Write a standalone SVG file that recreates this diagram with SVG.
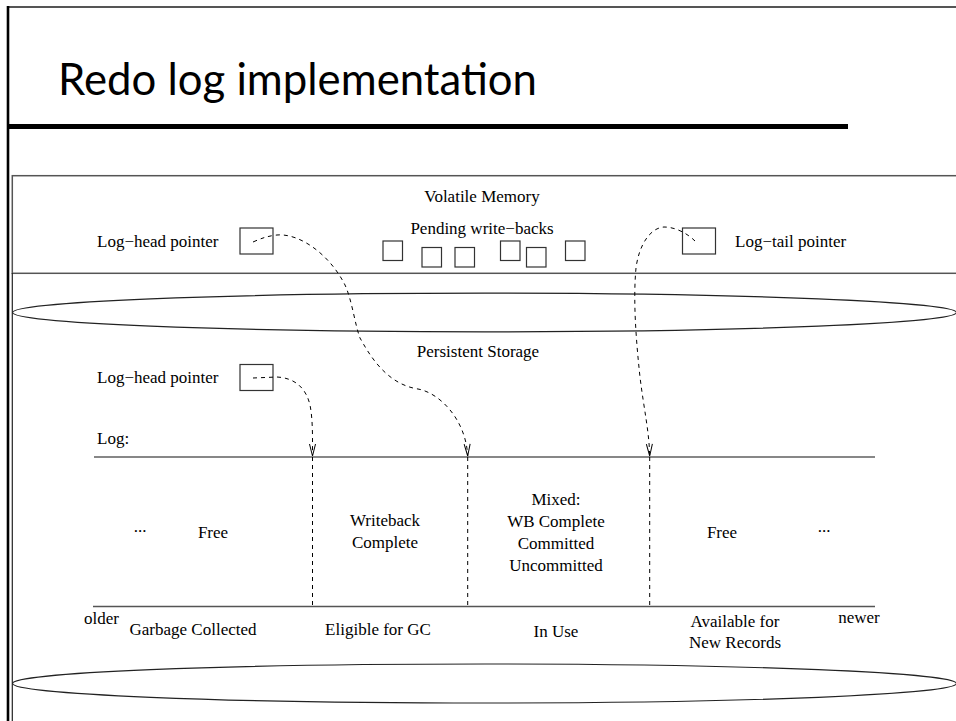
<svg xmlns="http://www.w3.org/2000/svg" width="956" height="721" viewBox="0 0 956 721">
  <style>
    .lbl { font-family: "Liberation Serif", "Times New Roman", serif; font-size: 17px; fill: #000; }
    .mid { text-anchor: middle; }
    .box { fill: none; stroke: #333; stroke-width: 1.2; }
    .thin { fill: none; stroke: #222; stroke-width: 1.2; }
    .grey { fill: none; stroke: #555; stroke-width: 1.5; }
    .ptr { fill: none; stroke: #000; stroke-width: 1; stroke-dasharray: 4 4; }
    .title { font-family: "Comic Sans MS", "Lato", "DejaVu Sans", sans-serif; font-size: 44px; fill: #000; }
  </style>
  <defs>
    <!-- open V arrowhead used by the pointer curves -->
    <marker id="vee" markerUnits="userSpaceOnUse" orient="auto" overflow="visible" markerWidth="12" markerHeight="8" refX="0" refY="0">
      <path d="M-12,-3 L0,0 L-12,3" fill="none" stroke="#000" stroke-width="1" stroke-dasharray="none"/>
    </marker>
  </defs>

  <rect width="956" height="721" fill="#fff"/>

  <!-- page frame and heading -->
  <g id="frame">
    <line x1="7" y1="7" x2="956" y2="7" stroke="#555" stroke-width="1.8"/>
    <line x1="8" y1="6" x2="8" y2="721" stroke="#000" stroke-width="2.6"/>
    <line x1="7" y1="126.5" x2="848" y2="126.5" stroke="#000" stroke-width="5"/>
  </g>
  <g id="title">
    <text class="title" x="58" y="95" textLength="479" lengthAdjust="spacingAndGlyphs">Redo log implementation</text>
  </g>

  <!-- volatile memory -->
  <g id="volatile-memory">
    <rect x="12.3" y="175.7" width="960" height="97.6" class="grey"/>
    <text class="lbl mid" x="482" y="202">Volatile Memory</text>
    <text class="lbl mid" x="482" y="234">Pending write−backs</text>
  </g>
  <g id="vm-log-head">
    <text class="lbl" x="97" y="247">Log−head pointer</text>
    <rect x="240" y="228" width="33" height="26" class="box"/>
  </g>
  <g id="pending-writebacks">
    <rect x="383" y="241" width="19.5" height="19.5" class="box"/>
    <rect x="422" y="247.5" width="19.5" height="19.5" class="box"/>
    <rect x="455" y="247.5" width="19.5" height="19.5" class="box"/>
    <rect x="500.5" y="241" width="19.5" height="19.5" class="box"/>
    <rect x="526.5" y="247.5" width="19.5" height="19.5" class="box"/>
    <rect x="565.5" y="241" width="19.5" height="19.5" class="box"/>
  </g>
  <g id="vm-log-tail">
    <rect x="682.5" y="228" width="33" height="26" class="box"/>
    <text class="lbl" x="735" y="247">Log−tail pointer</text>
  </g>

  <!-- persistent storage cylinder -->
  <g id="persistent-storage">
    <line x1="12.3" y1="273" x2="12.3" y2="721" class="thin"/>
    <ellipse cx="484.5" cy="312.5" rx="472" ry="19.3" class="thin"/>
    <ellipse cx="484.5" cy="683.5" rx="472" ry="19.5" class="thin"/>
    <text class="lbl mid" x="478" y="357">Persistent Storage</text>
  </g>
  <g id="ps-log-head">
    <text class="lbl" x="97" y="383">Log−head pointer</text>
    <rect x="240" y="364.5" width="33" height="26" class="box"/>
  </g>

  <!-- log layout -->
  <g id="log">
    <text class="lbl" x="97" y="444">Log:</text>
    <line x1="94" y1="457" x2="875" y2="457" stroke="#111" stroke-width="1.2"/>
    <line x1="93" y1="606.5" x2="875" y2="606.5" stroke="#555" stroke-width="1.6"/>
    <text class="lbl" x="84" y="624">older</text>
    <text class="lbl mid" x="859" y="623">newer</text>
  </g>
  <g id="region-gc">
    <text class="lbl mid" x="140" y="532">...</text>
    <text class="lbl mid" x="213" y="538">Free</text>
    <text class="lbl mid" x="193" y="635">Garbage Collected</text>
  </g>
  <g id="region-eligible">
    <text class="lbl mid" x="385" y="526">Writeback</text>
    <text class="lbl mid" x="385" y="548">Complete</text>
    <text class="lbl mid" x="378" y="635">Eligible for GC</text>
  </g>
  <g id="region-in-use">
    <text class="lbl mid" x="556" y="505">Mixed:</text>
    <text class="lbl mid" x="556" y="527">WB Complete</text>
    <text class="lbl mid" x="556" y="549">Committed</text>
    <text class="lbl mid" x="556" y="571">Uncommitted</text>
    <text class="lbl mid" x="556" y="637">In Use</text>
  </g>
  <g id="region-available">
    <text class="lbl mid" x="722" y="538">Free</text>
    <text class="lbl mid" x="824" y="532">...</text>
    <text class="lbl mid" x="735" y="627">Available for</text>
    <text class="lbl mid" x="735" y="648">New Records</text>
  </g>

  <!-- pointers and region boundaries -->
  <g id="connectors">
    <path class="ptr" marker-end="url(#vee)" d="M253,242 C262,238 268,236 277,235 C300,233 330,255 345,285 C352,300 355,325 360,338 C368,352 385,384 418,389 C440,393 466,420 467.7,456"/>
    <path class="ptr" marker-end="url(#vee)" d="M253,378 L277,377 C295,378 306,388 310,405 C313,420 312.5,440 312.5,456"/>
    <path class="ptr" marker-end="url(#vee)" d="M695,241 C688,234 676,227 664,227 C650,228 639,245 636,268 C633,300 636,340 640,377 C644,410 649,430 649.7,456"/>
    <line class="ptr" x1="312.5" y1="457" x2="312.5" y2="606"/>
    <line class="ptr" x1="467.7" y1="457" x2="467.7" y2="606"/>
    <line class="ptr" x1="649.7" y1="457" x2="649.7" y2="606"/>
  </g>
</svg>
